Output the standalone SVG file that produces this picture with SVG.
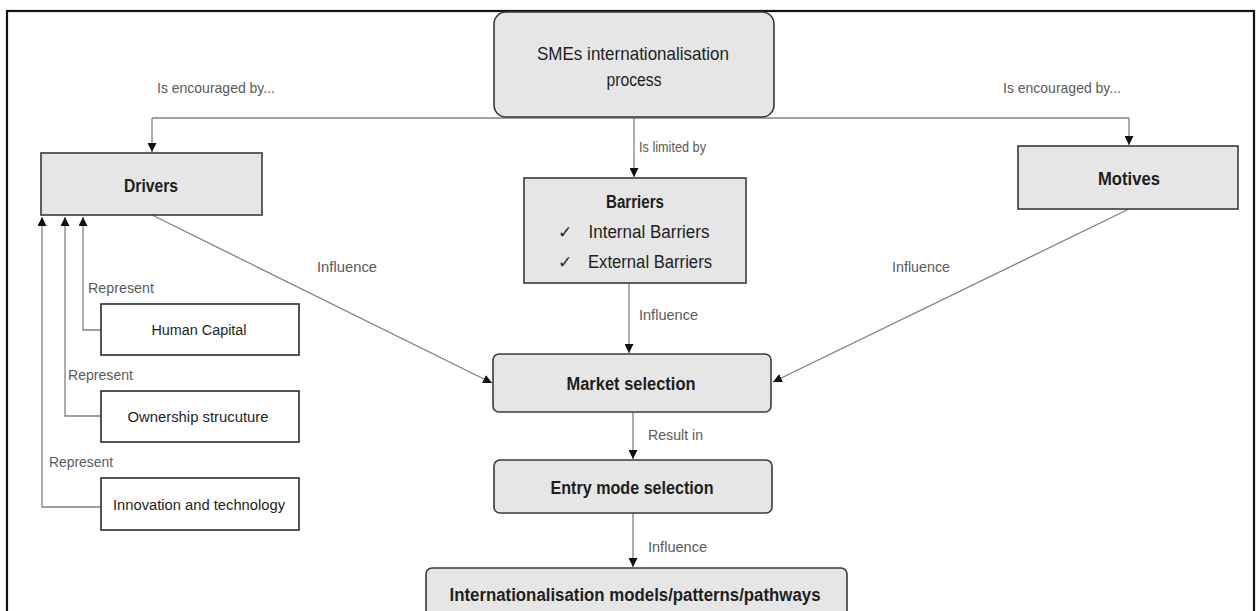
<svg xmlns="http://www.w3.org/2000/svg" width="1259" height="611" viewBox="0 0 1259 611">
<style>
.box{fill:#e6e6e6;stroke:#3a3a3a;stroke-width:1.6}
.wbox{fill:#ffffff;stroke:#2a2a2a;stroke-width:1.6}
.c{fill:none;stroke:#808080;stroke-width:1.3}
.t{font-family:"Liberation Sans",Arial,sans-serif;fill:#1e1e1e;text-anchor:middle}
.b{font-weight:bold}
.l{font-family:"Liberation Sans",Arial,sans-serif;fill:#5a5a5a;font-size:14.5px}
</style>
<defs>
<marker id="ah" viewBox="0 0 10 10" refX="10" refY="5" markerWidth="9" markerHeight="9" markerUnits="userSpaceOnUse" orient="auto">
<path d="M0,0 L10,5 L0,10 z" fill="#111"/>
</marker>
</defs>
<rect x="7" y="11" width="1247" height="640" fill="none" stroke="#111" stroke-width="2.2"/>
<g id="connectors">
<polyline class="c" points="152,118 1129,118"/>
<line class="c" x1="152" y1="118" x2="152" y2="152" marker-end="url(#ah)"/>
<line class="c" x1="1129" y1="118" x2="1129" y2="145" marker-end="url(#ah)"/>
<line class="c" x1="634" y1="117" x2="634" y2="177" marker-end="url(#ah)"/>
<line class="c" x1="152" y1="215" x2="492" y2="383" marker-end="url(#ah)"/>
<line class="c" x1="1129" y1="209" x2="773" y2="382" marker-end="url(#ah)"/>
<line class="c" x1="629" y1="283" x2="629" y2="353" marker-end="url(#ah)"/>
<line class="c" x1="633" y1="412" x2="633" y2="459" marker-end="url(#ah)"/>
<line class="c" x1="633" y1="513" x2="633" y2="567" marker-end="url(#ah)"/>
<polyline class="c" points="101,330 83,330 83,217" marker-end="url(#ah)"/>
<polyline class="c" points="101,416 65,416 65,217" marker-end="url(#ah)"/>
<polyline class="c" points="101,507 42,507 42,217" marker-end="url(#ah)"/>
<text class="l" x="157" y="93" textLength="118" lengthAdjust="spacingAndGlyphs">Is encouraged by...</text>
<text class="l" x="1003" y="93" textLength="118" lengthAdjust="spacingAndGlyphs">Is encouraged by...</text>
<text class="l" x="639" y="152" textLength="67" lengthAdjust="spacingAndGlyphs">Is limited by</text>
<text class="l" x="317" y="272" textLength="60" lengthAdjust="spacingAndGlyphs">Influence</text>
<text class="l" x="892" y="272" textLength="58" lengthAdjust="spacingAndGlyphs">Influence</text>
<text class="l" x="639" y="320" textLength="59" lengthAdjust="spacingAndGlyphs">Influence</text>
<text class="l" x="648" y="440" textLength="55" lengthAdjust="spacingAndGlyphs">Result in</text>
<text class="l" x="648" y="552" textLength="59" lengthAdjust="spacingAndGlyphs">Influence</text>
<text class="l" x="88" y="293" textLength="66" lengthAdjust="spacingAndGlyphs">Represent</text>
<text class="l" x="68" y="380" textLength="65" lengthAdjust="spacingAndGlyphs">Represent</text>
<text class="l" x="49" y="467" textLength="64" lengthAdjust="spacingAndGlyphs">Represent</text>
</g>
<g id="sme">
<rect class="box" x="494" y="12" width="280" height="105" rx="12"/>
<text class="t" x="633" y="60" font-size="19" textLength="192" lengthAdjust="spacingAndGlyphs">SMEs internationalisation</text>
<text class="t" x="634" y="86" font-size="19" textLength="55" lengthAdjust="spacingAndGlyphs">process</text>
</g>
<g id="drivers">
<rect class="box" x="41" y="153" width="221" height="62"/>
<text class="t b" x="151" y="192" font-size="18" textLength="54" lengthAdjust="spacingAndGlyphs">Drivers</text>
</g>
<g id="motives">
<rect class="box" x="1018" y="146" width="220" height="63"/>
<text class="t b" x="1129" y="185" font-size="18" textLength="62" lengthAdjust="spacingAndGlyphs">Motives</text>
</g>
<g id="barriers">
<rect class="box" x="524" y="178" width="222" height="105"/>
<text class="t b" x="635" y="208" font-size="18" textLength="58" lengthAdjust="spacingAndGlyphs">Barriers</text>
<text font-family="'DejaVu Sans',sans-serif" font-size="17" fill="#1e1e1e" x="558" y="238">✓</text>
<text class="t" x="649" y="238" font-size="18" textLength="121" lengthAdjust="spacingAndGlyphs">Internal Barriers</text>
<text font-family="'DejaVu Sans',sans-serif" font-size="17" fill="#1e1e1e" x="558" y="268">✓</text>
<text class="t" x="650" y="268" font-size="18" textLength="124" lengthAdjust="spacingAndGlyphs">External Barriers</text>
</g>
<g id="market">
<rect class="box" x="493" y="354" width="278" height="58" rx="6"/>
<text class="t b" x="631" y="390" font-size="18" textLength="129" lengthAdjust="spacingAndGlyphs">Market selection</text>
</g>
<g id="entry">
<rect class="box" x="494" y="460" width="278" height="53" rx="6"/>
<text class="t b" x="632" y="494" font-size="18" textLength="163" lengthAdjust="spacingAndGlyphs">Entry mode selection</text>
</g>
<g id="models">
<rect class="box" x="426" y="568" width="421" height="60" rx="6"/>
<text class="t b" x="635" y="601" font-size="18" textLength="371" lengthAdjust="spacingAndGlyphs">Internationalisation models/patterns/pathways</text>
</g>
<g id="human">
<rect class="wbox" x="101" y="304" width="198" height="51"/>
<text class="t" x="199" y="335" font-size="15.5" textLength="95" lengthAdjust="spacingAndGlyphs">Human Capital</text>
</g>
<g id="ownership">
<rect class="wbox" x="101" y="391" width="198" height="51"/>
<text class="t" x="198" y="422" font-size="15.5" textLength="141" lengthAdjust="spacingAndGlyphs">Ownership strucuture</text>
</g>
<g id="innovation">
<rect class="wbox" x="101" y="478" width="198" height="52"/>
<text class="t" x="199" y="510" font-size="15.5" textLength="172" lengthAdjust="spacingAndGlyphs">Innovation and technology</text>
</g>
</svg>
